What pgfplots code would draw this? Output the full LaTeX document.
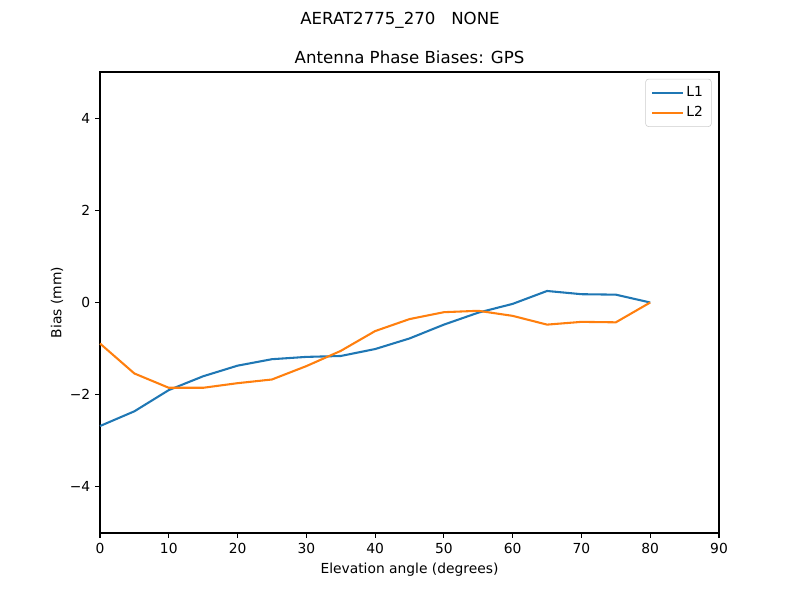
\documentclass[border=0pt]{standalone}
\usepackage{fontspec}
\setmainfont{DejaVu Sans}
\usepackage{pgfplots}
\pgfplotsset{compat=1.18}
\definecolor{c0}{HTML}{1F77B4}
\definecolor{c1}{HTML}{FF7F0E}
\begin{document}
\begin{tikzpicture}
\path[use as bounding box] (0,0) rectangle (8in,6in);
\node[font=\fontsize{12}{14}\selectfont, anchor=base] at (4in,6in-0.25in) {AERAT2775\_270\ \ \ NONE};
\begin{axis}[
  at={(1in,0.67in)}, anchor=south west,
  scale only axis, width=6.19in, height=4.61in,
  xmin=0, xmax=90, ymin=-5, ymax=5,
  xtick={0,10,...,90},
  ytick={-4,-2,0,2,4},
  yticklabels={−4,−2,0,2,4},
  tick align=outside, major tick length=3.5pt,
  tick style={black, line width=0.8pt},
  axis line style={line width=0.8pt},
  xtick pos=bottom, ytick pos=left,
  ticklabel style={font=\fontsize{10}{12}\selectfont},
  /pgf/number format/assume math mode=true,
  xlabel={Elevation angle (degrees)},
  ylabel={Bias (mm)},
  label style={font=\fontsize{10}{12}\selectfont},
  ylabel style={yshift=-2pt},
  legend style={at={(rel axis cs:0.988,0.985)}, anchor=north east,
    draw=black!20, rounded corners=2pt, font=\fontsize{10}{12}\selectfont,
    inner xsep=4pt, inner ysep=3.5pt, row sep=1.5pt},
  legend cell align=left,
  legend image code/.code={\draw[#1] (0pt,0pt) -- (22pt,0pt);},
  clip=false,
]
\node[font=\fontsize{12}{14}\selectfont, anchor=base] at (rel axis cs:0.5,1) [yshift=6pt] {Antenna Phase Biases: GPS};
\addplot[c0, line width=1.5pt] coordinates {
(0,-2.68) (5,-2.36) (10,-1.90) (15,-1.60) (20,-1.37) (25,-1.23) (30,-1.18) (35,-1.16)
(40,-1.01) (45,-0.78) (50,-0.48) (55,-0.22) (60,-0.03) (65,0.25) (70,0.18) (75,0.17) (80,0.0)
};
\addlegendentry{L1}
\addplot[c1, line width=1.5pt] coordinates {
(0,-0.89) (5,-1.54) (10,-1.85) (15,-1.85) (20,-1.75) (25,-1.67) (30,-1.38) (35,-1.05)
(40,-0.62) (45,-0.36) (50,-0.21) (55,-0.18) (60,-0.29) (65,-0.48) (70,-0.42) (75,-0.43) (80,0.0)
};
\addlegendentry{L2}
\end{axis}
\end{tikzpicture}
\end{document}
